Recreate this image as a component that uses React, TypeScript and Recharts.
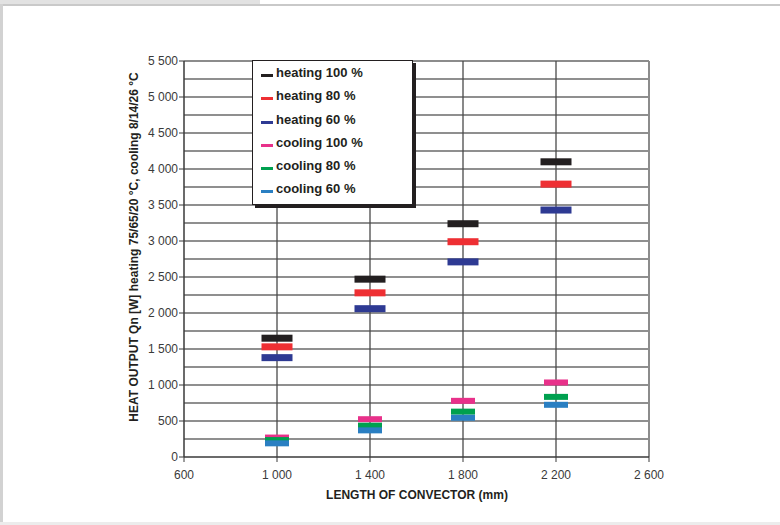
import React from "react";
import {
  ScatterChart,
  Scatter,
  XAxis,
  YAxis,
  ReferenceLine,
  Legend,
  Label,
} from "recharts";

// ---- data ----
const LENGTHS = [1000, 1400, 1800, 2200];
const HEATING_100 = [1650, 2470, 3240, 4100];
const HEATING_80 = [1530, 2280, 2990, 3790];
const HEATING_60 = [1380, 2060, 2710, 3430];
const COOLING_100 = [270, 525, 780, 1035];
const COOLING_80 = [235, 435, 630, 835];
const COOLING_60 = [190, 370, 545, 725];

const X_TICKS = [600, 1000, 1400, 1800, 2200, 2600];
const Y_TICKS = [0, 500, 1000, 1500, 2000, 2500, 3000, 3500, 4000, 4500, 5000, 5500];
const Y_GRID = [250, 500, 750, 1000, 1250, 1500, 1750, 2000, 2250, 2500, 2750, 3000, 3250, 3500, 3750, 4000, 4250, 4500, 4750, 5000, 5250];
const X_GRID = [1000, 1400, 1800, 2200];

const SERIES = [
  { name: "heating 100 %", values: HEATING_100, color: "#231f20", kind: "heating" },
  { name: "heating 80 %", values: HEATING_80, color: "#ee2f33", kind: "heating" },
  { name: "heating 60 %", values: HEATING_60, color: "#2e3a93", kind: "heating" },
  { name: "cooling 100 %", values: COOLING_100, color: "#e8318a", kind: "cooling" },
  { name: "cooling 80 %", values: COOLING_80, color: "#00a04f", kind: "cooling" },
  { name: "cooling 60 %", values: COOLING_60, color: "#2a7fc2", kind: "cooling" },
];

const FONT = "'Liberation Sans', Arial, Helvetica, sans-serif";

const fmt = (v: number) => {
  if (v < 1000) return String(v);
  const th = Math.floor(v / 1000);
  const rest = String(v % 1000).padStart(3, "0");
  return `${th} ${rest}`;
};

const makeShape = (color: string, w: number, h: number) => (props: any) => {
  const { cx, cy } = props;
  if (cx == null || cy == null) return <g />;
  return <rect x={cx - w / 2} y={cy - h / 2} width={w} height={h} fill={color} />;
};

const LegendBox = () => (
  <div
    style={{
      background: "#fff",
      border: "1px solid #231f20",
      boxShadow: "3px 3px 0 #231f20",
      width: 159,
      height: 143,
      boxSizing: "content-box",
      fontFamily: FONT,
      fontWeight: "bold",
      fontSize: 13,
      color: "#231f20",
    }}
  >
    {SERIES.map((s) => (
      <div key={s.name} style={{ height: 23.3, lineHeight: "23.3px", paddingLeft: 8, whiteSpace: "nowrap" }}>
        <span
          style={{
            display: "inline-block",
            width: 12,
            height: 3,
            background: s.color,
            marginRight: 3,
            verticalAlign: "baseline",
          }}
        />
        {s.name}
      </div>
    ))}
  </div>
);

export default function App() {
  return (
    <div style={{ position: "fixed", left: 0, top: 0, width: 780, height: 525, background: "#fff", overflow: "hidden" }}>
      <div style={{ position: "absolute", left: 0, top: 0, width: 260, height: 4, background: "#e2e2e2" }} />
      <div style={{ position: "absolute", left: 0, top: 4, width: 780, height: 2, background: "#c9c9c9" }} />
      <div style={{ position: "absolute", left: 0, top: 4, width: 3, height: 519, background: "#d2d2d2" }} />
      <div style={{ position: "absolute", left: 0, top: 522, width: 780, height: 3, background: "#ececec" }} />
      <div style={{ position: "absolute", left: 0, top: 0 }}>
        <ScatterChart width={780} height={525} margin={{ top: 61, right: 131, bottom: 0, left: 0 }}>
          <XAxis
            type="number"
            dataKey="x"
            domain={[600, 2600]}
            ticks={X_TICKS}
            tickFormatter={fmt}
            height={68}
            tickSize={5}
            tickMargin={8}
            tick={{ fill: "#3a3a3a", fontSize: 12, fontFamily: FONT }}
            axisLine={{ stroke: "#3a3a3a", strokeWidth: 1.5 }}
            tickLine={{ stroke: "#3a3a3a" }}
            interval={0}
          >
            <Label
              content={() => (
                <text x={417} y={499} textAnchor="middle" fontFamily={FONT} fontWeight="bold" fontSize={12} fill="#231f20">
                  LENGTH OF CONVECTOR (mm)
                </text>
              )}
            />
          </XAxis>
          <YAxis
            type="number"
            dataKey="y"
            domain={[0, 5500]}
            ticks={Y_TICKS}
            tickFormatter={fmt}
            width={184}
            tickSize={5}
            tickMargin={1}
            tick={{ fill: "#3a3a3a", fontSize: 12, fontFamily: FONT }}
            axisLine={{ stroke: "#3a3a3a", strokeWidth: 1.5 }}
            tickLine={{ stroke: "#3a3a3a" }}
            interval={0}
          >
            <Label
              content={() => (
                <text
                  x={138}
                  y={247}
                  transform="rotate(-90 138 247)"
                  textAnchor="middle"
                  fontFamily={FONT}
                  fontWeight="bold"
                  fontSize={12}
                  fill="#231f20"
                >
                  HEAT OUTPUT Qn [W] heating 75/65/20 °C, cooling 8/14/26 °C
                </text>
              )}
            />
          </YAxis>
          {Y_GRID.map((v) => (
            <ReferenceLine key={"h" + v} y={v} stroke="#6a6a6a" strokeWidth={1.5} />
          ))}
          <ReferenceLine y={5500} stroke="#8c8c8c" strokeWidth={2} />
          {X_GRID.map((v) => (
            <ReferenceLine key={"v" + v} x={v} stroke="#4a4a4a" strokeWidth={1.3} />
          ))}
          <ReferenceLine x={2600} stroke="#8c8c8c" strokeWidth={2} />
          {SERIES.map((s) => (
            <Scatter
              key={s.name}
              name={s.name}
              data={LENGTHS.map((x, i) => ({ x, y: s.values[i] }))}
              fill={s.color}
              isAnimationActive={false}
              shape={makeShape(s.color, s.kind === "heating" ? 31 : 24, s.kind === "heating" ? 7 : 6)}
            />
          ))}
          <Legend
            layout="horizontal"
            verticalAlign="middle"
            align="center"
            content={() => <LegendBox />}
            wrapperStyle={{ left: 252, top: 60, width: 165, height: 150, margin: 0, padding: 0 }}
          />
        </ScatterChart>
      </div>
    </div>
  );
}
